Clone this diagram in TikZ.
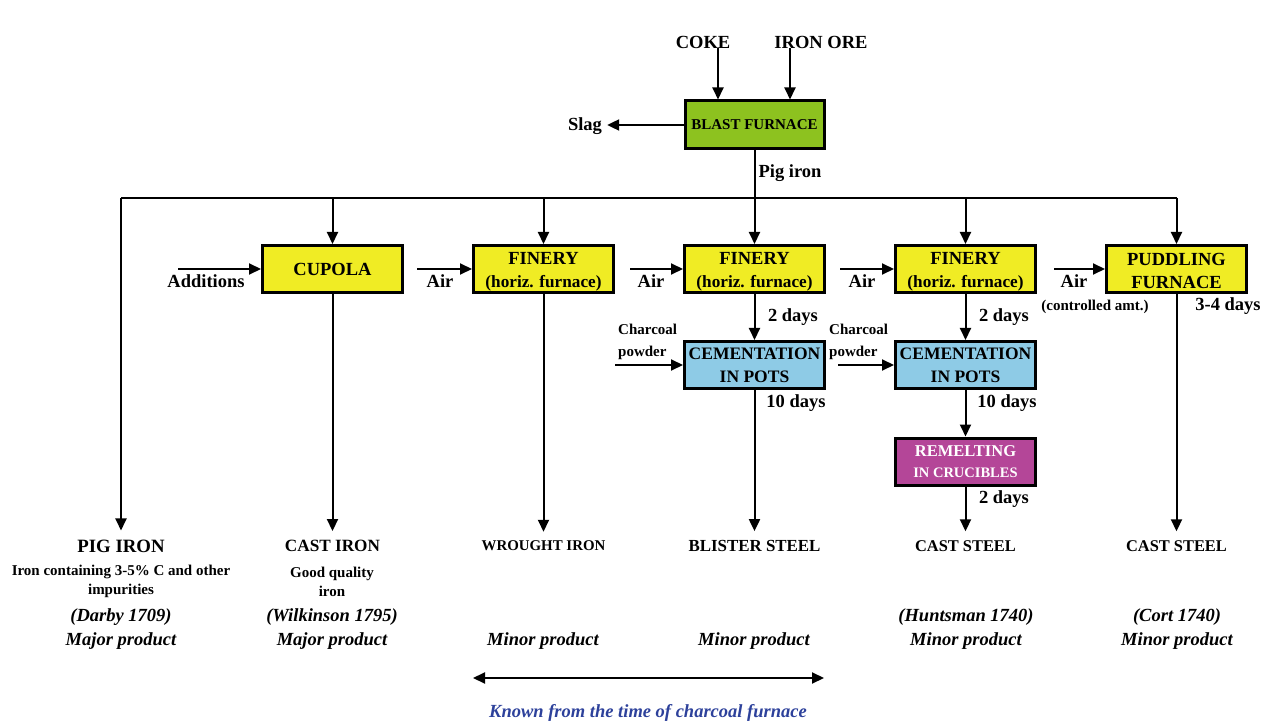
\documentclass[tikz,border=0pt]{standalone}
\usepackage{fontspec}
\setmainfont{Liberation Serif}
\usetikzlibrary{arrows.meta}
\definecolor{furnacegreen}{RGB}{141,194,31}
\definecolor{boxyellow}{RGB}{240,236,36}
\definecolor{potblue}{RGB}{142,203,230}
\definecolor{crucible}{RGB}{180,70,152}
\definecolor{noteblue}{RGB}{45,65,155}
\tikzset{
  line/.style={line width=2pt},
  arr/.style={line, -{Triangle[length=12pt,width=11pt]}},
  box/.style={draw, line width=3pt, minimum width=140pt, minimum height=47pt,
    inner sep=0pt, align=center, font=\fontsize{18.5}{23.5}\selectfont\bfseries},
  lbl/.style={inner sep=0pt, font=\fontsize{18.5}{22}\selectfont\bfseries},
  small/.style={inner sep=0pt, align=center, font=\fontsize{15}{19}\selectfont\bfseries},
  prod/.style={inner xsep=0pt, inner ysep=9pt},
  cite/.style={inner sep=0pt, font=\fontsize{18.5}{22}\selectfont\bfseries\itshape},
}
% two-line finery label, first line strut lowers the pair slightly
\newcommand\finerytext{\rule{0pt}{18pt}FINERY\\{\fontsize{17.2}{20}\selectfont (horiz. furnace)}}
\begin{document}
\begin{tikzpicture}[x=1pt,y=-1pt]
\useasboundingbox (0,0) rectangle (1262,722);

% raw materials and blast furnace
\node[box, fill=furnacegreen, minimum width=139pt, minimum height=48pt,
      font=\fontsize{15}{18}\selectfont\bfseries] (bf) at (754.5,125) {BLAST FURNACE};
\node[lbl] (coke) at (703,42) {COKE};
\node[lbl] (ore) at (821,42) {IRON ORE};
\node[lbl, inner xsep=5pt] (slag) at (585,126) {Slag};
\draw[arr] ([xshift=15pt]coke.south) -- ([xshift=15pt]coke.south |- bf.north);
\draw[arr] ([xshift=-31pt]ore.south) -- ([xshift=-31pt]ore.south |- bf.north);
\draw[arr] (bf.west) -- (slag.east |- bf.west);
\node[lbl] (pigiron) at (790,173) {Pig iron};

% distribution line
\coordinate (bus) at (0,198);

% furnace row
\node[box, fill=boxyellow] (cupola) at (332.5,269) {CUPOLA};
\node[box, fill=boxyellow] (fin1) at (543.5,269) {\finerytext};
\node[box, fill=boxyellow] (fin2) at (754.5,269) {\finerytext};
\node[box, fill=boxyellow] (fin3) at (965.5,269) {\finerytext};
\node[box, fill=boxyellow] (pud) at (1176.5,269) {\rule{0pt}{16pt}PUDDLING\\FURNACE};

% cementation and crucible
\node[box, fill=potblue, font=\fontsize{17.5}{23}\selectfont\bfseries] (cem1) at (754.5,365) {CEMENTATION\\IN POTS};
\node[box, fill=potblue, font=\fontsize{17.5}{23}\selectfont\bfseries] (cem2) at (965.5,365) {CEMENTATION\\IN POTS};
\node[box, fill=crucible, text=white, font=\fontsize{16.5}{21}\selectfont\bfseries] (rem) at (965.5,461.5)
  {REMELTING\\{\fontsize{14.5}{18}\selectfont IN CRUCIBLES}};

% products
\node[lbl, prod, font=\fontsize{18.8}{22}\selectfont\bfseries] (pig) at (121,546) {PIG IRON};
\node[lbl, prod, font=\fontsize{17.2}{22}\selectfont\bfseries] (castiron) at (332.5,546) {CAST IRON};
\node[lbl, prod, font=\fontsize{14.9}{22}\selectfont\bfseries] (wrought) at (543.5,546) {WROUGHT IRON};
\node[lbl, prod, font=\fontsize{16.9}{22}\selectfont\bfseries] (blister) at (754.5,546) {BLISTER STEEL};
\node[lbl, prod, font=\fontsize{16.4}{22}\selectfont\bfseries] (caststeel1) at (965.5,546) {CAST STEEL};
\node[lbl, prod, font=\fontsize{16.4}{22}\selectfont\bfseries] (caststeel2) at (1176.5,546) {CAST STEEL};

% bus and drops
\draw[line] (bf.south) -- (bf.south |- bus);
\draw[line] (pig.north |- bus) -- (caststeel2.north |- bus);
\draw[arr] (pig.north |- bus) -- (pig.north);
\draw[arr] (cupola.north |- bus) -- (cupola.north);
\draw[arr] (fin1.north |- bus) -- (fin1.north);
\draw[arr] (fin2.north |- bus) -- (fin2.north);
\draw[arr] (fin3.north |- bus) -- (fin3.north);
\draw[arr] (pud.north |- bus) -- (pud.north);

% inputs to the furnace row
\coordinate (addin) at (178,0);
\coordinate (air1) at (417,0);
\coordinate (air2) at (630,0);
\coordinate (air3) at (840,0);
\coordinate (air4) at (1054,0);
\draw[arr] (addin |- cupola.west) -- (cupola.west);
\draw[arr] (air1 |- fin1.west) -- (fin1.west);
\draw[arr] (air2 |- fin2.west) -- (fin2.west);
\draw[arr] (air3 |- fin3.west) -- (fin3.west);
\draw[arr] (air4 |- pud.west) -- (pud.west);
\node[lbl] (additions) at (206,281) {Additions};
\node[lbl] (airl1) at (440,281) {Air};
\node[lbl] (airl2) at (651,281) {Air};
\node[lbl] (airl3) at (862,281) {Air};
\node[lbl] (airl4) at (1074,281) {Air};
\node[small] (ctrl) at (1095,307) {(controlled amt.)};
\node[lbl] (d34) at (1228,306) {3-4 days};

% charcoal inputs
\node[small, align=left, anchor=west, font=\fontsize{15}{21.5}\selectfont\bfseries] (char1) at (618,342) {Charcoal\\powder};
\node[small, align=left, anchor=west, font=\fontsize{15}{21.5}\selectfont\bfseries] (char2) at (829,342) {Charcoal\\powder};
\coordinate (ch1) at (615,0);
\coordinate (ch2) at (838,0);
\draw[arr] (ch1 |- cem1.west) -- (cem1.west);
\draw[arr] (ch2 |- cem2.west) -- (cem2.west);

% downward flows
\draw[arr] (fin2.south) -- (cem1.north);
\draw[arr] (fin3.south) -- (cem2.north);
\draw[arr] (cem2.south) -- (rem.north);
\draw[arr] (cupola.south) -- (castiron.north);
\draw[arr] (fin1.south) -- (wrought.north);
\draw[arr] (cem1.south) -- (blister.north);
\draw[arr] (rem.south) -- (caststeel1.north);
\draw[arr] (pud.south) -- (caststeel2.north);
\node[lbl] (d2a) at (793,317) {2 days};
\node[lbl] (d2b) at (1004,317) {2 days};
\node[lbl] (d10a) at (796,403) {10 days};
\node[lbl] (d10b) at (1007,403) {10 days};
\node[lbl] (d2c) at (1004,499) {2 days};

% product notes
\node[small] (pignote) at (121,581.5) {Iron containing 3-5\% C and other\\impurities};
\node[small] (castnote) at (332,581.5) {Good quality\\iron};
\node[cite] (darby) at (121,617) {(Darby 1709)};
\node[cite] (wilk) at (332,617) {(Wilkinson 1795)};
\node[cite] (hunt) at (966,617) {(Huntsman 1740)};
\node[cite] (cort) at (1177,617) {(Cort 1740)};
\node[cite] (m1) at (121,641) {Major product};
\node[cite] (m2) at (332,641) {Major product};
\node[cite] (m3) at (543,641) {Minor product};
\node[cite] (m4) at (754,641) {Minor product};
\node[cite] (m5) at (966,641) {Minor product};
\node[cite] (m6) at (1177,641) {Minor product};

% charcoal furnace era
\coordinate (eraL) at (473,678);
\coordinate (eraR) at (824,678);
\draw[line, {Triangle[length=12pt,width=11pt]}-{Triangle[length=12pt,width=11pt]}] (eraL) -- (eraR);
\node[cite, text=noteblue] (known) at (648,713) {Known from the time of charcoal furnace};
\end{tikzpicture}
\end{document}
